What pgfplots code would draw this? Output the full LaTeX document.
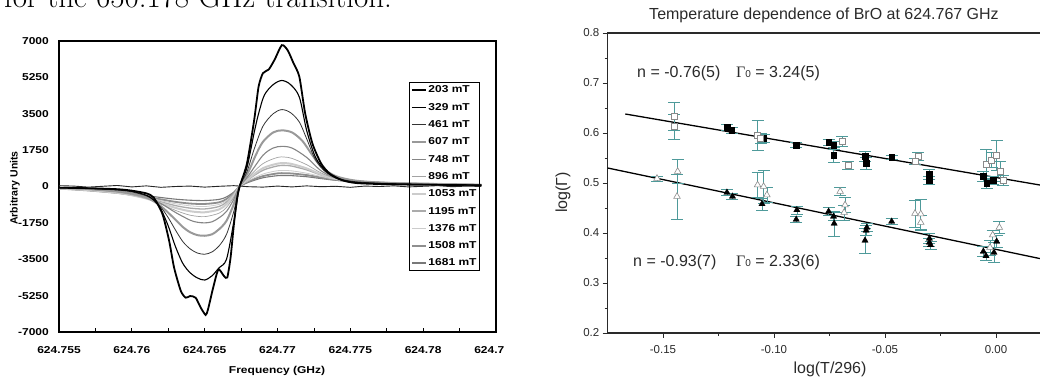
\documentclass[border=0pt]{standalone}
\usepackage{fontspec}
\usepackage{pgfplots}
\pgfplotsset{compat=1.18}
\newfontfamily\arial{Liberation Sans}
\newfontfamily\arialx[FakeStretch=1.2]{Liberation Sans}
\newfontfamily\timesf{Liberation Serif}
\definecolor{errc}{HTML}{4E9A9A}
\definecolor{axc}{HTML}{2A2A2A}
\definecolor{openc}{HTML}{8A8A8A}
\begin{document}
\begin{tikzpicture}
\path[use as bounding box] (0pt,0pt) rectangle (1040pt,379pt);
\node[anchor=base west, inner sep=0pt] at (4pt,371pt) {\fontsize{31}{31}\selectfont for the 650.178 GHz transition.};
% ---------------- left chart ----------------
\begin{axis}[
  at={(59pt,47pt)}, anchor=south west, scale only axis, width=437pt, height=291pt,
  xmin=0, xmax=30, ymin=-7000, ymax=7000,
  xtick={0,5,10,15,20,25,30},
  xticklabels={624.755,624.76,624.765,624.77,624.775,624.78,624.785},
  minor xtick={2.5,7.5,12.5,17.5,22.5,27.5},
  ytick={-7000,-5250,-3500,-1750,0,1750,3500,5250,7000},
  yticklabels={-7000,-5250,-3500,-1750,0,1750,3500,5250,7000},
  tick align=inside, xtick pos=bottom, ytick pos=left,
  major tick length=4pt, minor tick length=4pt,
  ytick style={draw=none},
  xtick style={black, line width=0.8pt},
  axis line style={black, line width=1.1pt},
  ticklabel style={font=\arialx\bfseries\fontsize{10}{12}\selectfont},
  xticklabel style={inner sep=0pt, anchor=north, yshift=-14pt},
  yticklabel style={inner sep=0pt, anchor=east, xshift=-10pt},
  reverse legend,
  legend cell align=left,
  legend style={at={(rel axis cs:0.801,0.859)}, anchor=north west, draw=black, line width=0.9pt, fill=none,
     font=\arialx\bfseries\fontsize{10}{12}\selectfont, inner sep=1.5pt, row sep=5.3pt,
     nodes={inner sep=1.5pt, text height=7.5pt, text depth=1.5pt}},
  legend image code/.code={\draw[#1] (0pt,0pt) -- (14pt,0pt);},
]
\addplot[color=black!53, line width=1.1pt, smooth, tension=0.5] coordinates {(0,-100) (2,-180) (4,-290) (5,-360) (6,-440) (7,-530) (8,-610) (9,-660) (10,-676) (11,-620) (11.5,-500) (12,-270) (12.4,0) (13,200) (14,420) (15,520) (15.5,530) (16,520) (17,470) (18,380) (19,300) (20.5,220) (23,150) (27,100) (29,80)};
\addlegendentry{1681 mT}
\addplot[color=black!44, line width=1.8pt, smooth, tension=0.5] coordinates {(0,-100) (2,-190) (4,-310) (5,-400) (6,-500) (7,-620) (8,-740) (9,-820) (10,-840) (11,-760) (11.5,-600) (12,-320) (12.4,0) (13,240) (14,500) (15,630) (15.5,640) (16,625) (17,550) (18,430) (19,320) (20.5,230) (23,160) (27,110) (29,80)};
\addlegendentry{1508 mT}
\addplot[color=black!20, line width=0.8pt, smooth, tension=0.5] coordinates {(0,-100) (2,-190) (4,-320) (5,-420) (6,-540) (7,-680) (8,-830) (9,-930) (10,-965) (11,-860) (11.5,-680) (12,-360) (12.4,0) (13,280) (14,600) (15,760) (15.5,770) (16,750) (17,640) (18,480) (19,340) (20.5,240) (23,160) (27,110) (29,80)};
\addlegendentry{1376 mT}
\addplot[color=black!33, line width=1.3pt, smooth, tension=0.5] coordinates {(0,-90) (2,-180) (4,-310) (5,-420) (6,-560) (7,-740) (8,-920) (9,-1040) (10,-1080) (11,-960) (11.5,-750) (12,-400) (12.4,0) (13,340) (14,780) (15,990) (15.5,1015) (16,980) (17,800) (18,550) (19,370) (20.5,250) (23,170) (27,110) (29,80)};
\addlegendentry{1195 mT}
\addplot[color=black!20, line width=2pt, smooth, tension=0.5] coordinates {(0,-90) (2,-170) (4,-300) (5,-420) (6,-580) (7,-800) (8,-1030) (9,-1190) (10,-1240) (11,-1100) (11.5,-850) (12,-450) (12.4,0) (13,380) (14,880) (15,1100) (15.5,1125) (16,1080) (17,870) (18,580) (19,380) (20.5,250) (23,170) (27,110) (29,80)};
\addlegendentry{1053 mT}
\addplot[color=black!36, line width=0.7pt, smooth, tension=0.5] coordinates {(0,-80) (2,-150) (4,-280) (5,-400) (6,-580) (7,-850) (8,-1150) (9,-1380) (10,-1450) (11,-1280) (11.5,-1000) (12,-520) (12.4,0) (13,450) (14,1100) (15,1400) (15.5,1415) (16,1350) (17,1050) (18,650) (19,400) (20.5,260) (23,170) (27,110) (29,80)};
\addlegendentry{896 mT}
\addplot[color=black!48, line width=1.1pt, smooth, tension=0.5] coordinates {(0,-70) (2,-130) (4,-240) (5,-350) (6,-520) (7,-820) (8,-1250) (9,-1620) (9.5,-1720) (10,-1750) (10.5,-1700) (11,-1500) (11.5,-1200) (12,-620) (12.4,0) (13,520) (14,1500) (14.7,1850) (15.3,1930) (16,1850) (17,1400) (18,750) (19,420) (20.5,260) (23,160) (27,110) (29,80)};
\addlegendentry{748 mT}
\addplot[color=black!40, line width=2pt, smooth, tension=0.5] coordinates {(0,-70) (2,-120) (4,-220) (5,-330) (6,-520) (7,-950) (8,-1600) (8.5,-1950) (9,-2200) (9.5,-2340) (10,-2370) (10.5,-2300) (11,-2050) (11.5,-1650) (12,-850) (12.4,0) (13,700) (13.5,1500) (14,2150) (14.7,2600) (15.3,2700) (16,2600) (16.7,2200) (17.3,1600) (18,950) (19,500) (20.5,270) (23,160) (27,100) (29,80)};
\addlegendentry{607 mT}
\addplot[color=black!80, line width=0.8pt, smooth, tension=0.5] coordinates {(0,-60) (2,-100) (4,-170) (5,-260) (6,-450) (6.5,-650) (7,-1000) (7.5,-1500) (8,-2100) (8.5,-2650) (9,-3000) (9.5,-3200) (10,-3260) (10.5,-3150) (11,-2850) (11.5,-2300) (12,-1200) (12.4,0) (12.9,700) (13.4,1800) (14,2900) (14.7,3500) (15.3,3700) (15.9,3550) (16.5,3100) (17,2300) (17.6,1300) (18.3,700) (19.2,380) (20.5,220) (23,140) (27,90) (29,70)};
\addlegendentry{461 mT}
\addplot[color=black, line width=1.1pt, smooth, tension=0.5] coordinates {(0,-60) (2,-90) (4,-150) (5,-230) (6,-420) (6.5,-650) (7,-1100) (7.5,-1900) (8,-2900) (8.5,-3700) (9,-4150) (9.5,-4400) (10,-4500) (10.5,-4300) (11,-3900) (11.5,-3500) (12,-1700) (12.4,0) (12.9,900) (13.4,2600) (13.7,3500) (14.1,4400) (14.7,4900) (15.3,5100) (15.9,4900) (16.5,4300) (17,2700) (17.6,1420) (18.3,750) (19.2,350) (20.5,190) (23,120) (27,80) (29,60)};
\addlegendentry{329 mT}
\addplot[color=black, line width=1.8pt, smooth, tension=0.4] coordinates {(0,-60) (2,-80) (4,-130) (5,-200) (6,-330) (6.5,-530) (7.1,-1320) (7.56,-2610) (7.9,-3900) (8.36,-5020) (8.7,-5350) (9.0,-5270) (9.38,-5350) (9.73,-5830) (10.07,-6180) (10.23,-5910) (10.53,-5020) (10.82,-4220) (10.98,-3980) (11.32,-4300) (11.55,-4380) (11.78,-3410) (12.01,-1800) (12.24,-515) (12.4,0) (12.9,1100) (13.4,3200) (13.7,4800) (14.0,5450) (14.4,5630) (14.8,6100) (15.3,6800) (15.7,6550) (16.1,5930) (16.5,5280) (16.9,3510) (17.4,2060) (18.0,1100) (18.6,610) (19.5,290) (20.5,160) (23,100) (27,70) (29,60)};
\addlegendentry{203 mT}
\addplot[forget plot, color=black!85, line width=0.9pt] coordinates {(0,40) (1,20) (2,-30) (3,10) (4,50) (5,-20) (6,30) (7,-40) (8,0) (9,20) (10,-30) (11,10) (12,40) (13,-10) (14,-30) (15,20) (16,-20) (17,30) (18,-10) (19,10) (20,-40) (21,20) (22,0) (23,30) (24,-20) (25,10) (26,40) (27,-10) (28,20) (29,0)};
\end{axis}
\fill[white] (504pt,12pt) rectangle (548pt,40pt);
\node[font=\arialx\bfseries\fontsize{10}{12}\selectfont] at (277pt,8pt) {Frequency (GHz)};
\node[rotate=90, font=\arial\bfseries\fontsize{10.5}{12}\selectfont] at (15pt,191pt) {Arbitrary Units};
% ---------------- right chart ----------------
\begin{axis}[
  at={(607.5pt,46pt)}, anchor=south west, scale only axis, width=434pt, height=300pt,
  xmin=-0.175, xmax=0.0205, ymin=0.2, ymax=0.8,
  xtick={-0.15,-0.10,-0.05,0}, xticklabels={-0.15,-0.10,-0.05,0.00},
  minor xtick={-0.125,-0.075,-0.025},
  ytick={0.2,0.3,0.4,0.5,0.6,0.7,0.8}, yticklabels={0.2,0.3,0.4,0.5,0.6,0.7,0.8},
  minor ytick={0.25,0.35,0.45,0.55,0.65,0.75},
  tick align=outside, xtick pos=bottom, ytick pos=left,
  major tick length=5pt, minor tick length=3pt,
  tick style={axc, line width=0.9pt},
  axis line style={axc, line width=1.2pt},
  ticklabel style={font=\arial\fontsize{11.5}{13}\selectfont, text=axc},
  xticklabel style={inner sep=0pt, anchor=north, yshift=-7pt},
  yticklabel style={inner sep=0pt, anchor=east, xshift=-3pt},
]
\addplot[black, line width=1.3pt] coordinates {(-0.167,0.638) (0.025,0.492)};
\addplot[black, line width=1.3pt] coordinates {(-0.18,0.5347) (0.025,0.344)};
\addplot[only marks, mark=square*, mark size=2.8pt, color=black,
  error bars/.cd, y dir=both, y explicit, error bar style={errc, line width=0.6pt},
  error mark options={errc, rotate=90, mark size=6pt, line width=0.6pt}]
  table[x=x, y=y, y error=e] {
x y e
-0.1212 0.611 0.006
-0.1190 0.606 0.006
-0.1047 0.589 0.008
-0.0900 0.576 0.005
-0.0754 0.581 0.006
-0.0732 0.576 0.008
-0.0732 0.556 0.015
-0.0590 0.553 0.010
-0.0585 0.539 0.012
-0.0470 0.551 0.004
-0.0300 0.518 0.010
-0.0300 0.506 0.008
-0.0057 0.513 0.010
-0.0042 0.499 0.010
-0.0012 0.506 0.008
};
\addplot[only marks, mark=square*, mark size=3pt, color=openc, mark options={fill=white, line width=0.6pt},
  error bars/.cd, y dir=both, y explicit, error bar style={errc, line width=0.6pt},
  error mark options={errc, rotate=90, mark size=6pt, line width=0.6pt}]
  table[x=x, y=y, y error=e] {
x y e
-0.1449 0.633 0.028
-0.1449 0.613 0.025
-0.1074 0.596 0.030
-0.1060 0.590 0.010
-0.0694 0.583 0.010
-0.0665 0.536 0.008
-0.0350 0.553 0.008
-0.0365 0.543 0.006
-0.0045 0.538 0.030
-0.0019 0.546 0.015
0.0003 0.556 0.030
0.0018 0.523 0.020
0.0033 0.506 0.010
};
\addplot[only marks, mark=triangle*, mark size=3.6pt, color=black,
  error bars/.cd, y dir=both, y explicit, error bar style={errc, line width=0.6pt},
  error mark options={errc, rotate=90, mark size=6pt, line width=0.6pt}]
  table[x=x, y=y, y error=e] {
x y e
-0.1212 0.481 0.006
-0.1187 0.473 0.006
-0.1054 0.458 0.012
-0.0897 0.446 0.008
-0.0900 0.427 0.006
-0.0754 0.443 0.008
-0.0732 0.433 0.008
-0.0729 0.419 0.025
-0.0582 0.411 0.008
-0.0585 0.405 0.010
-0.0590 0.385 0.025
-0.0470 0.423 0.006
-0.0300 0.389 0.010
-0.0300 0.381 0.008
-0.0295 0.376 0.008
-0.0057 0.363 0.010
-0.0045 0.354 0.008
-0.0009 0.361 0.020
0.0003 0.383 0.012
};
\addplot[only marks, mark=triangle*, mark size=3.8pt, color=openc, mark options={fill=white, line width=0.6pt},
  error bars/.cd, y dir=both, y explicit, error bar style={errc, line width=0.6pt},
  error mark options={errc, rotate=90, mark size=6pt, line width=0.6pt}]
  table[x=x, y=y, y error=e] {
x y e
-0.1527 0.509 0.005
-0.1434 0.523 0.024
-0.1437 0.473 0.045
-0.1074 0.496 0.025
-0.1047 0.493 0.033
-0.1032 0.476 0.015
-0.0702 0.483 0.008
-0.0680 0.456 0.015
-0.0684 0.441 0.015
-0.0365 0.439 0.027
-0.0339 0.438 0.030
-0.0339 0.421 0.015
-0.0015 0.396 0.010
0.0015 0.411 0.012
-0.0027 0.371 0.015
};
\end{axis}
\node[anchor=base, font=\arial\fontsize{16}{18}\selectfont, text=axc] at (824pt,359pt) {Temperature dependence of BrO at 624.767 GHz};
\node[anchor=base, font=\arial\fontsize{16}{18}\selectfont, text=axc] at (830pt,5pt) {log(T/296)};
\node[rotate=90, font=\arial\fontsize{16}{18}\selectfont, text=axc] at (563pt,186.5pt) {log(Γ)};
\node[anchor=west, inner sep=0pt, font=\arial\fontsize{16}{18}\selectfont, text=axc] at (637pt,306pt) {n = -0.76(5)};
\node[anchor=west, inner sep=0pt, font=\arial\fontsize{16}{18}\selectfont, text=axc] at (736pt,306pt) {{\timesf Γ}{\fontsize{10}{10}\selectfont 0} = 3.24(5)};
\node[anchor=west, inner sep=0pt, font=\arial\fontsize{16}{18}\selectfont, text=axc] at (633pt,117pt) {n = -0.93(7)};
\node[anchor=west, inner sep=0pt, font=\arial\fontsize{16}{18}\selectfont, text=axc] at (736pt,117pt) {{\timesf Γ}{\fontsize{10}{10}\selectfont 0} = 2.33(6)};
\end{tikzpicture}
\end{document}
